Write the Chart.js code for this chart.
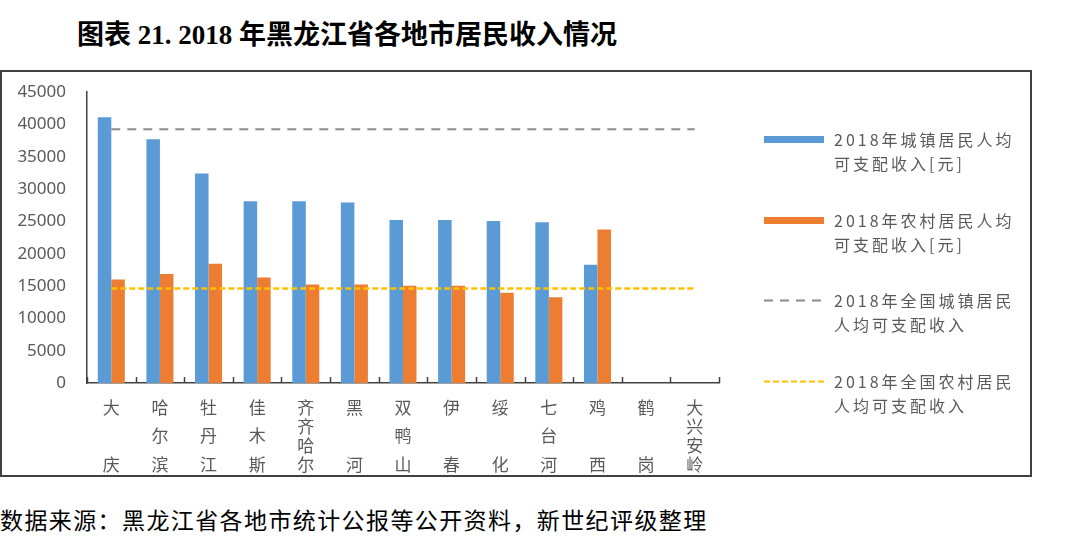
<!DOCTYPE html>
<html>
<head>
<meta charset="utf-8">
<script src="https://cdn.jsdelivr.net/npm/chart.js@4/dist/chart.umd.min.js"></script>
<style>
  body { margin: 0; background: #fff; width: 1080px; height: 538px; position: relative; overflow: hidden; }
  #title { position: absolute; left: 77px; top: 13px; font: bold 27px "Liberation Serif", "Noto Sans CJK SC", serif; color: #000; white-space: nowrap; }
  #frame { position: absolute; left: 0; top: 70px; width: 1032px; height: 407px; border: 2px solid #404040; box-sizing: border-box; }
  #frame canvas { position: absolute; left: 0; top: 0; }
  #legend { position: absolute; left: 0; top: 0; }
  .item { position: absolute; }
  .item svg { position: absolute; left: 0; top: 0; }
  .item .txt { position: absolute; left: 71px; top: 0; font: 16px "Noto Sans CJK SC", sans-serif; letter-spacing: 3px; line-height: 24.5px; color: #595959; white-space: nowrap; }
  #source { position: absolute; left: 0; top: 502px; font: 23px "Noto Sans CJK SC", sans-serif; letter-spacing: 1.4px; color: #000; white-space: nowrap; }
</style>
</head>
<body>
<div id="title">图表 21. 2018 年黑龙江省各地市居民收入情况</div>
<div id="frame">
  <canvas id="chart" width="1028" height="403"></canvas>
  <div id="legend"></div>
</div>
<div id="source">数据来源：黑龙江省各地市统计公报等公开资料，新世纪评级整理</div>
<script>
const cities = ['大庆', '哈尔滨', '牡丹江', '佳木斯', '齐齐哈尔', '黑河', '双鸭山', '伊春', '绥化', '七台河', '鸡西', '鹤岗', '大兴安岭'];
const urbanIncome = [41100, 37700, 32400, 28100, 28100, 27900, 25200, 25200, 25050, 24850, 18300, null, null];
const ruralIncome = [16000, 16850, 18450, 16300, 15250, 15250, 15050, 15050, 13950, 13250, 23750, null, null];
const nationalUrban = 39251;
const nationalRural = 14617;
const yTicks = [0, 5000, 10000, 15000, 20000, 25000, 30000, 35000, 40000, 45000];

const legendLines = [
  ['2018年城镇居民人均', '可支配收入[元]'],
  ['2018年农村居民人均', '可支配收入[元]'],
  ['2018年全国城镇居民', '人均可支配收入'],
  ['2018年全国农村居民', '人均可支配收入']
];

// vertical labels: spread the characters over 7 text rows like the original
function verticalLabel (name) {
  const chars = [...name];
  const rows = ['', '', '', '', '', '', ''];
  chars.forEach((c, i) => {
    rows[Math.round(i * 6 / (chars.length - 1))] = c;
  });
  return rows;
}

const axisColor = '#404040';
const textColor = '#595959';

// small tick marks on the category axis, pointing up into the plot
const categoryTicks = {
  id: 'categoryTicks',
  afterDatasetsDraw (chart) {
    const x = chart.scales.x;
    const ctx = chart.ctx;
    const y0 = x.top;
    const xs = [x.left];
    for (let i = 1; i < cities.length; i++) {
      xs.push((x.getPixelForValue(i - 1) + x.getPixelForValue(i)) / 2);
    }
    xs.push(x.right);
    ctx.save();
    ctx.strokeStyle = axisColor;
    ctx.lineWidth = 1.5;
    ctx.beginPath();
    xs.forEach(px => {
      ctx.moveTo(Math.round(px) + 0.5, y0);
      ctx.lineTo(Math.round(px) + 0.5, y0 - 6);
    });
    ctx.stroke();
    ctx.restore();
  }
};

const first = cities[0];
const last = cities[cities.length - 1];

const chart = new Chart(document.getElementById('chart'), {
  data: {
    labels: cities,
    datasets: [
      {
        type: 'bar',
        label: legendLines[0].join(''),
        data: urbanIncome,
        backgroundColor: '#5b9bd5',
        categoryPercentage: 0.556,
        barPercentage: 1,
        order: 1
      },
      {
        type: 'bar',
        label: legendLines[1].join(''),
        data: ruralIncome,
        backgroundColor: '#ed7d31',
        categoryPercentage: 0.556,
        barPercentage: 1,
        order: 1
      },
      {
        type: 'line',
        label: legendLines[2].join(''),
        data: [{ x: first, y: nationalUrban }, { x: last, y: nationalUrban }],
        borderColor: '#8c8c8c',
        borderWidth: 2,
        borderDash: [9, 7],
        pointRadius: 0,
        order: 0
      },
      {
        type: 'line',
        label: legendLines[3].join(''),
        data: [{ x: first, y: nationalRural }, { x: last, y: nationalRural }],
        borderColor: '#ffc000',
        borderWidth: 2.5,
        borderDash: [6, 3],
        pointRadius: 0,
        order: 0
      }
    ]
  },
  options: {
    responsive: false,
    animation: false,
    layout: { padding: { top: 20, right: 311, left: 0, bottom: 0 } },
    plugins: { legend: { display: false }, tooltip: { enabled: false } },
    scales: {
      x: {
        type: 'category',
        offset: true,
        grid: { display: false },
        border: { display: true, color: axisColor, width: 1.5 },
        ticks: {
          autoSkip: false,
          maxRotation: 0,
          padding: 12,
          color: textColor,
          font: { family: '"Noto Sans CJK SC", sans-serif', size: 17, lineHeight: '9.4px' },
          callback: (v, i) => verticalLabel(cities[i])
        },
        afterFit (scale) { scale.height = 92; }
      },
      y: {
        min: 0,
        max: 45000,
        grid: { display: false },
        border: { display: true, color: axisColor, width: 1.5 },
        afterBuildTicks (scale) { scale.ticks = yTicks.map(v => ({ value: v })); },
        ticks: {
          padding: 13,
          color: textColor,
          font: { family: '"Noto Sans", sans-serif', size: 17 },
          callback: v => String(v)
        },
        afterFit (scale) { scale.width = 85; scale.paddingTop = 0; }
      }
    }
  },
  plugins: [categoryTicks]
});

// legend built from the chart's datasets (positions relative to the frame)
const legendCenters = [139, 220, 300, 381];
const legend = document.getElementById('legend');
chart.data.datasets.forEach((ds, i) => {
  const item = document.createElement('div');
  item.className = 'item';
  item.style.left = '761px';
  item.style.top = (legendCenters[i] - 72 - 12.25) + 'px';
  const isLine = ds.type === 'line';
  const dash = isLine ? ds.borderDash.join(' ') : '';
  const color = isLine ? ds.borderColor : ds.backgroundColor;
  const width = isLine ? 2 : 7;
  item.innerHTML =
    '<svg width="62" height="25"><line x1="1" y1="12.5" x2="61" y2="12.5" stroke="' + color +
    '" stroke-width="' + width + '" stroke-dasharray="' + dash + '"/></svg>' +
    '<div class="txt">' + legendLines[i].join('<br>') + '</div>';
  legend.appendChild(item);
});
</script>
</body>
</html>
